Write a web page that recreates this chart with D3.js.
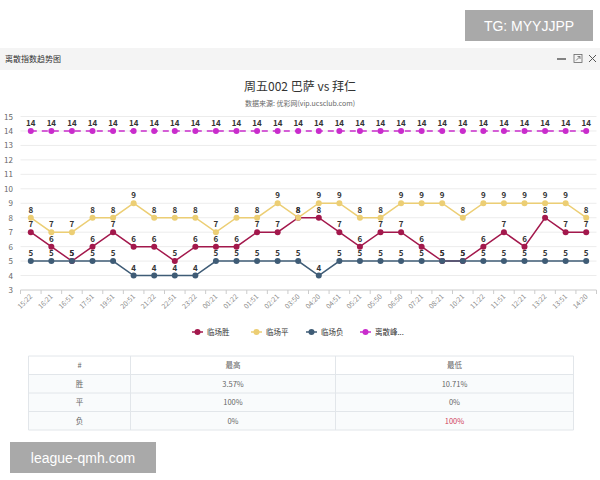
<!DOCTYPE html>
<html>
<head>
<meta charset="utf-8">
<script src="https://cdn.jsdelivr.net/npm/d3@7"></script>
<style>
  body { margin: 0; background: #fff; }
  svg { display: block; font-family: "Noto Sans CJK SC", "Noto Sans", sans-serif; }
</style>
</head>
<body>
<div id="chart"></div>
<script>
// x categories (time of odds update)
var times = ["15:22","16:21","16:51","17:51","19:51","20:51","21:22","22:51","23:22","00:21",
  "01:22","01:51","02:21","03:50","04:20","04:51","05:21","05:50","06:50","07:21",
  "08:21","10:21","11:22","11:51","12:21","13:22","13:51","14:20"];

var winVals  = [7,6,5,6,7,6,6,5,6,6,6,7,7,8,8,7,6,7,7,6,5,5,6,7,6,8,7,7];
var drawVals = [8,7,7,8,8,9,8,8,8,7,8,8,9,8,9,9,8,8,9,9,9,8,9,9,9,9,9,8];
var lossVals = [5,5,5,5,5,4,4,4,4,5,5,5,5,5,4,5,5,5,5,5,5,5,5,5,5,5,5,5];
var peakVals = [14,14,14,14,14,14,14,14,14,14,14,14,14,14,14,14,14,14,14,14,14,14,14,14,14,14,14,14];

var seriesNames = ["临场胜","临场平","临场负","离散峰..."];
var seriesColors = ["#a3184c","#ecce74","#3f5c76","#c92ccc"];
var yTicks = [3,4,5,6,7,8,9,10,11,12,13,14,15];

var tableHead = ["#","最高","最低"];
var tableRows = ["胜","平","负"];
var tableHigh = ["3.57%","100%","0%"];
var tableLow  = ["10.71%","0%","100%"];

var W = 600, H = 480;
var svg = d3.select("#chart").append("svg").attr("width", W).attr("height", H);
svg.append("rect").attr("width", W).attr("height", H).attr("fill", "#fff");

// window header bar
svg.append("rect").attr("x", 0).attr("y", 48).attr("width", W).attr("height", 22).attr("fill", "#f4f4f4");
svg.append("text").attr("x", 5).attr("y", 62).attr("font-size", 8).attr("fill", "#333").text("离散指数趋势图");
svg.append("line").attr("x1", 557).attr("x2", 566).attr("y1", 59).attr("y2", 59).attr("stroke", "#444").attr("stroke-width", 1.3);
svg.append("rect").attr("x", 574).attr("y", 54.5).attr("width", 8).attr("height", 8).attr("fill", "none").attr("stroke", "#666").attr("stroke-width", 0.8);
svg.append("path").attr("d", "M576,60.5 L580,56.5 M577.5,56.5 L580,56.5 L580,59").attr("fill", "none").attr("stroke", "#666").attr("stroke-width", 0.8);
svg.append("path").attr("d", "M589,55 L596,62 M596,55 L589,62").attr("stroke", "#555").attr("stroke-width", 1);

// titles
svg.append("text").attr("x", 300).attr("y", 91).attr("text-anchor", "middle")
  .attr("font-size", 12).attr("fill", "#333").text("周五002 巴萨 vs 拜仁");
svg.append("text").attr("x", 300).attr("y", 106).attr("text-anchor", "middle")
  .attr("font-size", 7).attr("fill", "#666").text("数据来源: 优彩网(vip.ucsclub.com)");

// scales
var band = d3.scaleBand().domain(times).range([20.5, 596.5]).padding(0);
var x = function(t) { return band(t) + band.bandwidth() / 2; };
var y = d3.scaleLinear().domain([3, 15]).range([290, 116.5]);

var plot = svg.append("g");

// grid + y labels
plot.selectAll(".grid").data(yTicks.slice(1)).enter().append("line")
  .attr("x1", 20.5).attr("x2", 596.5)
  .attr("y1", d => y(d)).attr("y2", d => y(d))
  .attr("stroke", "#ececec").attr("stroke-width", 1);
plot.selectAll(".ylab").data(yTicks).enter().append("text")
  .attr("x", 13).attr("y", d => y(d) + 3)
  .attr("text-anchor", "end").attr("font-size", 8).attr("fill", "#666")
  .text(d => d);

// x axis
plot.append("line").attr("x1", 20.5).attr("x2", 596.5).attr("y1", y(3)).attr("y2", y(3))
  .attr("stroke", "#ccc");
plot.selectAll(".xtick").data(times.concat(["end"])).enter().append("line")
  .attr("x1", d => d === "end" ? 596.5 : band(d)).attr("x2", d => d === "end" ? 596.5 : band(d))
  .attr("y1", y(3)).attr("y2", y(3) + 4).attr("stroke", "#ccc");
plot.selectAll(".xlab").data(times).enter().append("text")
  .attr("transform", d => "translate(" + (x(d) + 2) + "," + (y(3) + 7) + ") rotate(-45)")
  .attr("text-anchor", "end").attr("font-size", 7).attr("fill", "#888")
  .text(d => d);

// series, later ones drawn on top
var allSeries = [winVals, drawVals, lossVals, peakVals];
var line = d3.line().x((d, i) => x(times[i])).y(d => y(d));

allSeries.forEach(function(vals, k) {
  var g = plot.append("g");
  g.append("path").attr("d", line(vals)).attr("fill", "none")
    .attr("stroke", seriesColors[k]).attr("stroke-width", 1.5)
    .attr("stroke-dasharray", k === 3 ? "6,5" : null);
  g.selectAll("circle").data(vals).enter().append("circle")
    .attr("cx", (d, i) => x(times[i])).attr("cy", d => y(d)).attr("r", 3)
    .attr("fill", seriesColors[k]);
  g.selectAll("text").data(vals).enter().append("text")
    .attr("x", (d, i) => x(times[i])).attr("y", d => y(d) - 5)
    .attr("text-anchor", "middle").attr("font-size", 8).attr("font-weight", "bold")
    .attr("fill", "#333").text(d => d);
});

// legend
var legendX = [192, 251, 306, 360];
seriesNames.forEach(function(name, k) {
  var lg = svg.append("g").attr("transform", "translate(" + legendX[k] + ",332)");
  lg.append("line").attr("x1", 0).attr("x2", 11).attr("stroke", seriesColors[k]).attr("stroke-width", 1.5);
  lg.append("circle").attr("cx", 5.5).attr("r", 3).attr("fill", seriesColors[k]);
  lg.append("text").attr("x", 15).attr("y", 2.5).attr("font-size", 7.5).attr("fill", "#333").text(name);
});

// table
var colX = [28.5, 130.5, 335.5, 573.5];
var rowY = [356, 374.5, 393, 411.5, 430];
var tbl = svg.append("g");
for (var r = 0; r < 4; r++) {
  tbl.append("rect").attr("x", colX[0]).attr("y", rowY[r]).attr("width", colX[3] - colX[0])
    .attr("height", rowY[r + 1] - rowY[r]).attr("fill", r === 0 ? "#fff" : "#f9fbfc");
}
rowY.forEach(function(ry) {
  tbl.append("line").attr("x1", colX[0]).attr("x2", colX[3]).attr("y1", ry).attr("y2", ry).attr("stroke", "#e2e6ea");
});
colX.forEach(function(cx) {
  tbl.append("line").attr("x1", cx).attr("x2", cx).attr("y1", rowY[0]).attr("y2", rowY[4]).attr("stroke", "#e2e6ea");
});
var cells = [tableHead].concat(tableRows.map((t, i) => [t, tableHigh[i], tableLow[i]]));
cells.forEach(function(row, r) {
  row.forEach(function(v, c) {
    tbl.append("text").attr("x", (colX[c] + colX[c + 1]) / 2).attr("y", (rowY[r] + rowY[r + 1]) / 2 + 3)
      .attr("text-anchor", "middle").attr("font-size", 7.5)
      .attr("fill", (r === 3 && c === 2) ? "#d0405a" : "#666").text(v);
  });
});

// watermarks
svg.append("rect").attr("x", 465).attr("y", 10).attr("width", 128).attr("height", 31).attr("fill", "#a9a9a9");
svg.append("text").attr("x", 529).attr("y", 31).attr("text-anchor", "middle").attr("font-size", 14)
  .attr("font-family", "Liberation Sans, sans-serif").attr("fill", "#fff").text("TG: MYYJJPP");
svg.append("rect").attr("x", 10).attr("y", 442).attr("width", 146).attr("height", 31).attr("fill", "#a9a9a9");
svg.append("text").attr("x", 83).attr("y", 463).attr("text-anchor", "middle").attr("font-size", 14)
  .attr("font-family", "Liberation Sans, sans-serif").attr("fill", "#fff").text("league-qmh.com");
</script>
</body>
</html>
